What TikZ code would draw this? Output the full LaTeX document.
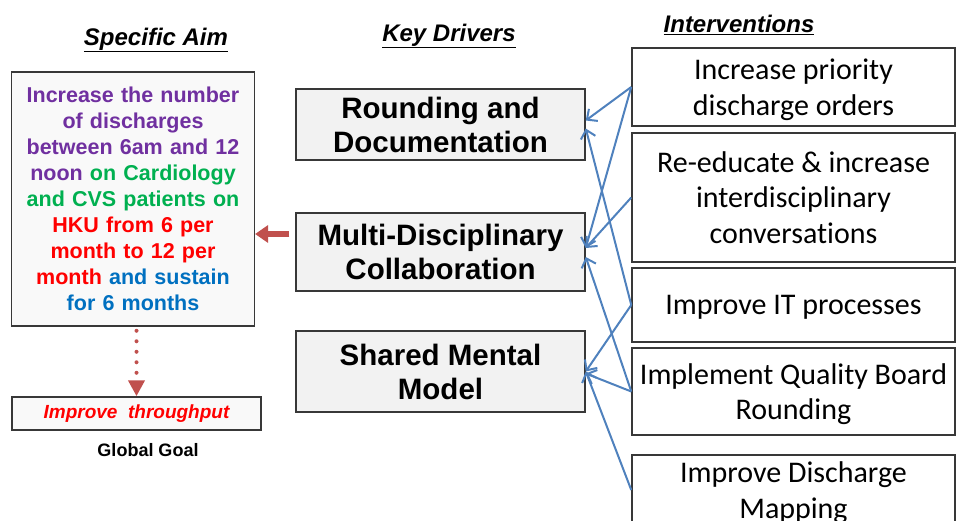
\documentclass[tikz,border=0pt]{standalone}
\usepackage{xcolor}
\usepackage{fontspec}
\setmainfont{Liberation Sans}
\newfontfamily\calibri[Ligatures=NoCommon]{Carlito}
\usepackage{tikz}
\usetikzlibrary{arrows.meta, positioning, calc}
\definecolor{aimpurple}{RGB}{112, 48, 160}
\definecolor{aimgreen}{RGB}{0, 176, 80}
\definecolor{aimred}{RGB}{255, 0, 0}
\definecolor{aimblue}{RGB}{0, 112, 192}
\definecolor{linkblue}{RGB}{79, 129, 189}
\definecolor{arrowred}{RGB}{192, 80, 77}
\definecolor{boxline}{RGB}{56, 56, 56}

\tikzset{
    heading/.style={font=\fontsize{24}{28}\selectfont\bfseries\itshape},
    driver/.style={draw=boxline, line width=1.5pt, fill=gray!10, minimum width=289pt,
        align=center, font=\fontsize{29.5}{34}\selectfont\bfseries},
    intervention/.style={draw=boxline, line width=1.5pt, fill=white, minimum width=323pt,
        text depth=0pt, align=center, font=\calibri\fontsize{30}{35.5}\selectfont},
    link/.style={linkblue, line width=2pt, -{Straight Barb[length=8pt,width=15pt]}}
}

\begin{document}
\begin{tikzpicture}[x=1pt, y=-1pt]
        \clip (0,0) rectangle (957,521);
        % Column headings
        \node[heading] (aimtitle) at (156,40) {\underline{Specific Aim}};
        \node[heading] (drvtitle) at (449,36) {\underline{Key Drivers}};
        \node[heading] (ivtitle) at (739,25) {\underline{Interventions}};

        % Specific aim and global goal
        \node[draw=boxline, line width=1.5pt, fill=gray!5, minimum width=242pt, minimum height=254pt,
            text width=236pt, align=center, font=\fontsize{21.5}{26}\selectfont\bfseries] (aim) at (133,199)
            {\textcolor{aimpurple}{Increase the number}\\
             \textcolor{aimpurple}{of discharges}\\
             \textcolor{aimpurple}{between 6am and 12}\\
             \textcolor{aimpurple}{noon} \textcolor{aimgreen}{on Cardiology}\\
             \textcolor{aimgreen}{and CVS patients on}\\
             \textcolor{aimred}{HKU from 6 per}\\
             \textcolor{aimred}{month to 12 per}\\
             \textcolor{aimred}{month} \textcolor{aimblue}{and sustain}\\
             \textcolor{aimblue}{for 6 months}};
        \node[draw=boxline, line width=1.5pt, fill=gray!5, minimum width=249pt, minimum height=33pt,
            text=aimred, font=\fontsize{19}{22}\selectfont\bfseries\itshape] (goal) at (136.5,413.5)
            {Improve\ \ throughput};
        \node[font=\fontsize{18}{21}\selectfont\bfseries] (goallabel) at (148,450) {Global Goal};

        % Key drivers
        \node[driver, minimum height=71pt] (rnd) at (440.5,124.5) {Rounding and\\Documentation};
        \node[driver, minimum height=78pt] (mdc) at (440.5,252) {Multi-Disciplinary\\Collaboration};
        \node[driver, minimum height=81pt] (smm) at (440.5,371.5) {Shared Mental\\Model};

        % Interventions
        \node[intervention, minimum height=78pt] (iv1) at (793.5,87) {Increase priority\\discharge orders};
        \node[intervention, minimum height=129pt] (iv2) at (793.5,197.5) {Re-educate \& increase\\interdisciplinary\\conversations};
        \node[intervention, minimum height=74pt] (iv3) at (793.5,305) {Improve IT processes};
        \node[intervention, minimum height=87pt] (iv4) at (793.5,391.5) {Implement Quality Board\\Rounding};
        \node[intervention, minimum height=70pt] (iv5) at (793.5,490) {Improve Discharge\\Mapping};

        % Drivers feed the aim, the aim feeds the goal
        \coordinate (redstart) at ($(mdc.west)+(-6,-18)$);
        \draw[arrowred, line width=5.5pt, -{Triangle[length=13pt,width=17pt]}] (redstart) -- (redstart -| aim.east);
        \draw[arrowred, line width=4pt, line cap=round, dash pattern=on 0pt off 10.5pt, shorten <=4pt,
            -{Triangle[length=16pt,width=16pt]}] (goal.north |- aim.south) -- (goal.north);

        % Interventions to drivers
        \draw[link] (iv1.west) -- ([yshift=4pt]rnd.east);
        \draw[link] (iv1.west) -- ([yshift=4pt]mdc.east);
        \draw[link] (iv2.west) -- ([yshift=4pt]mdc.east);
        \draw[link] (iv3.west) -- ([yshift=-4pt]rnd.east);
        \draw[link] (iv3.west) -- (smm.east);
        \draw[link] (iv4.west) -- ([yshift=-5pt]mdc.east);
        \draw[link] (iv4.west) -- ([yshift=-2pt]smm.east);
        \draw[link] (iv5.west) -- (smm.east);
    \end{tikzpicture}
\end{document}
